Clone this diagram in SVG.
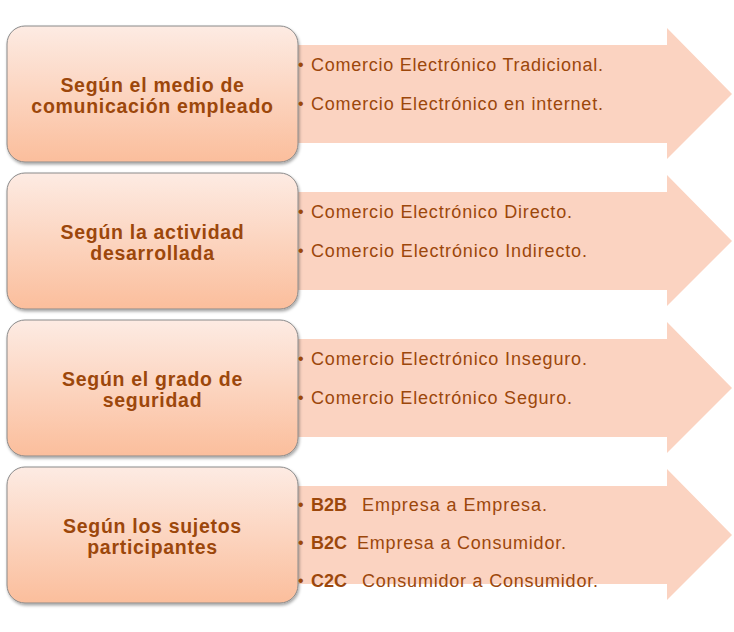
<svg xmlns="http://www.w3.org/2000/svg" width="734" height="632" viewBox="0 0 734 632">
<defs>
<linearGradient id="bg" x1="0" y1="0" x2="0" y2="1">
<stop offset="0" stop-color="#fdebe3"/>
<stop offset="1" stop-color="#fbbe9c"/>
</linearGradient>
<filter id="sh" x="-5%" y="-5%" width="115%" height="120%">
<feDropShadow dx="1" dy="2" stdDeviation="1.5" flood-color="#000" flood-opacity="0.35"/>
</filter>
<path id="arr" d="M250 19 H667 V2 L732 68 L667 133 V117 H250 Z"/>
</defs>
<style>
.arrow{fill:#fbd3c1}
.box{fill:url(#bg);stroke:#8a8a8a;stroke-width:1;filter:url(#sh)}
.t{font-family:"Liberation Sans",Arial,sans-serif;font-weight:bold;font-size:19.5px;letter-spacing:0.7px;fill:#9c470b;text-anchor:middle}
.b{font-family:"Liberation Sans",Arial,sans-serif;font-size:18px;fill:#9c470b}
.d{font-family:"Liberation Sans",Arial,sans-serif;font-size:16px;fill:#9c470b}
.k{font-weight:bold}
</style>
<rect width="734" height="632" fill="#fff"/>
<g id="connectors"></g>
<g id="row1" transform="translate(0,26)">
<use href="#arr" class="arrow"/>
<rect class="box" x="7" y="0" width="291" height="136" rx="18"/>
<text class="t" x="152.5" y="65.5">Según el medio de</text>
<text class="t" x="152.5" y="87">comunicación empleado</text>
<text class="d" x="298" y="44">•</text><text class="b" x="311" y="45" textLength="292" lengthAdjust="spacing">Comercio Electrónico Tradicional.</text>
<text class="d" x="298" y="83">•</text><text class="b" x="311" y="84" textLength="292" lengthAdjust="spacing">Comercio Electrónico en internet.</text>
</g>
<g id="row2" transform="translate(0,173)">
<use href="#arr" class="arrow"/>
<rect class="box" x="7" y="0" width="291" height="136" rx="18"/>
<text class="t" x="152.5" y="65.5">Según la actividad</text>
<text class="t" x="152.5" y="87">desarrollada</text>
<text class="d" x="298" y="44">•</text><text class="b" x="311" y="45" textLength="261" lengthAdjust="spacing">Comercio Electrónico Directo.</text>
<text class="d" x="298" y="83">•</text><text class="b" x="311" y="84" textLength="276" lengthAdjust="spacing">Comercio Electrónico Indirecto.</text>
</g>
<g id="row3" transform="translate(0,320)">
<use href="#arr" class="arrow"/>
<rect class="box" x="7" y="0" width="291" height="136" rx="18"/>
<text class="t" x="152.5" y="65.5">Según el grado de</text>
<text class="t" x="152.5" y="87">seguridad</text>
<text class="d" x="298" y="44">•</text><text class="b" x="311" y="45" textLength="276" lengthAdjust="spacing">Comercio Electrónico Inseguro.</text>
<text class="d" x="298" y="83">•</text><text class="b" x="311" y="84" textLength="261" lengthAdjust="spacing">Comercio Electrónico Seguro.</text>
</g>
<g id="row4" transform="translate(0,467)">
<use href="#arr" class="arrow"/>
<rect class="box" x="7" y="0" width="291" height="136" rx="18"/>
<text class="t" x="152.5" y="65.5">Según los sujetos</text>
<text class="t" x="152.5" y="87">participantes</text>
<text class="d" x="298" y="43">•</text><text class="b k" x="311" y="44">B2B</text><text class="b" x="362" y="44" textLength="185" lengthAdjust="spacing">Empresa a Empresa.</text>
<text class="d" x="298" y="81">•</text><text class="b k" x="311" y="82">B2C</text><text class="b" x="357" y="82" textLength="209" lengthAdjust="spacing">Empresa a Consumidor.</text>
<text class="d" x="298" y="119">•</text><text class="b k" x="311" y="120">C2C</text><text class="b" x="362" y="120" textLength="236" lengthAdjust="spacing">Consumidor a Consumidor.</text>
</g>
</svg>
